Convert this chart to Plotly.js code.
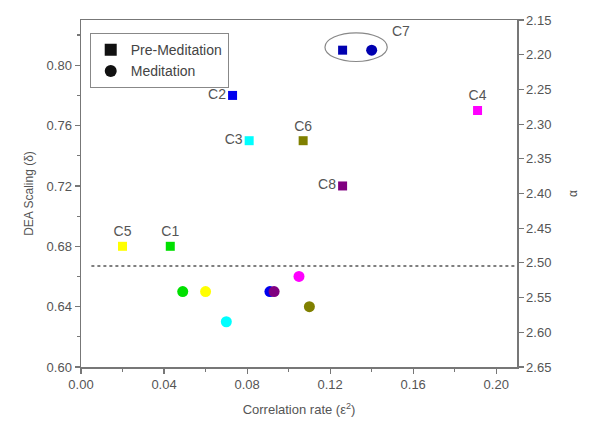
<!DOCTYPE html>
<html>
<head>
<meta charset="utf-8">
<script src="https://cdn.plot.ly/plotly-3.0.1.min.js"></script>
<style>html,body{margin:0;padding:0;background:#fff;}#chart{width:593px;height:432px;}</style>
</head>
<body>
<div id="chart"></div>
<script>
// Data
const categories = ['C1','C2','C3','C4','C5','C6','C7','C8'];
const colors = ['#00e000','#0000ee','#00ffff','#ff00ff','#ffff00','#808000','#0000b0','#800080'];
const preX = [0.043, 0.073, 0.081, 0.191, 0.020, 0.107, 0.126, 0.126];
const preY = [0.68, 0.78, 0.75, 0.77, 0.68, 0.75, 0.81, 0.72];
const medX = [0.049, 0.091, 0.070, 0.105, 0.060, 0.110, 0.140, 0.093];
const medY = [0.65, 0.65, 0.63, 0.66, 0.65, 0.64, 0.81, 0.65];
const labelPos = ['top center','middle left','middle left','top center','top center','top center','none','middle left'];
const threshold = 0.667;

const labelText = categories.map((c,i)=> labelPos[i]==='none' ? '' : c);
const textPos = labelPos.map(p => p==='none' ? 'top center' : p);

const font = {family: 'Liberation Sans, Arial, sans-serif', color: '#555', size: 13};

const traces = [
  {x: preX, y: preY, type: 'scatter', mode: 'markers+text', text: labelText, textposition: textPos,
   textfont: {family: font.family, size: 14, color: '#555'},
   marker: {symbol: 'square', size: 9, color: colors}, showlegend: false, cliponaxis: false},
  {x: medX, y: medY, type: 'scatter', mode: 'markers',
   marker: {symbol: 'circle', size: 11, color: colors}, showlegend: false},
  {x: [null], y: [null], type: 'scatter', mode: 'markers', name: 'Pre-Meditation',
   marker: {symbol: 'square', size: 11, color: '#111'}},
  {x: [null], y: [null], type: 'scatter', mode: 'markers', name: 'Meditation',
   marker: {symbol: 'circle', size: 12, color: '#111'}},
  {x: [null], y: [null], yaxis: 'y2', type: 'scatter', showlegend: false, hoverinfo: 'skip'}
];

const axisCommon = {
  showline: true, linecolor: '#777', linewidth: 1.5, showgrid: false, zeroline: false,
  ticks: 'outside', ticklen: 5, tickwidth: 1.2, tickcolor: '#777',
  tickfont: {family: font.family, size: 13, color: '#555'}
};

const layout = {
  width: 593, height: 432,
  margin: {l: 81, r: 76, t: 20, b: 65},
  paper_bgcolor: '#fff', plot_bgcolor: '#fff',
  font: font,
  xaxis: Object.assign({}, axisCommon, {
    range: [0, 0.21], tickvals: [0, 0.04, 0.08, 0.12, 0.16, 0.20], tickformat: '.2f',
    mirror: true,
    minor: {tickvals: [0.02, 0.06, 0.10, 0.14, 0.18], ticks: 'outside', ticklen: 3, tickcolor: '#777'},
    title: {text: 'Correlation rate (ε<sup>2</sup>)', font: {family: font.family, size: 13, color: '#555'}, standoff: 14}
  }),
  yaxis: Object.assign({}, axisCommon, {
    range: [0.60, 0.83], tickvals: [0.60, 0.64, 0.68, 0.72, 0.76, 0.80], tickformat: '.2f',
    minor: {tickvals: [0.62, 0.66, 0.70, 0.74, 0.78, 0.82], ticks: 'outside', ticklen: 3, tickcolor: '#777'},
    title: {text: 'DEA Scaling (δ)', font: {family: font.family, size: 12, color: '#555'}, standoff: 10}
  }),
  yaxis2: Object.assign({}, axisCommon, {
    overlaying: 'y', side: 'right', range: [2.65, 2.15], dtick: 0.05, tick0: 2.15, tickformat: '.2f',
    title: {text: 'α', font: {family: font.family, size: 12, color: '#555'}, standoff: 18}
  }),
  legend: {
    x: 0.02, y: 0.962, xanchor: 'left', yanchor: 'top',
    bordercolor: '#888', borderwidth: 1, bgcolor: 'rgba(255,255,255,0)',
    font: {family: font.family, size: 14, color: '#444'},
    itemsizing: 'constant', tracegroupgap: 0
  },
  shapes: [
    {type: 'line', xref: 'x', yref: 'y', x0: 0.005, x1: 0.21, y0: threshold, y1: threshold,
     line: {color: '#555', width: 1.5, dash: 'dot'}},
    {type: 'circle', xref: 'x', yref: 'y', x0: preX[6] - 0.0085, x1: medX[6] + 0.0075,
     y0: preY[6] - 0.0075, y1: preY[6] + 0.0115,
     line: {color: '#888', width: 1.2}}
  ],
  annotations: [
    {xref: 'x', yref: 'y', x: medX[6] + 0.009, y: preY[6] + 0.006, text: categories[6],
     showarrow: false, xanchor: 'left', yanchor: 'bottom', font: {family: font.family, size: 14, color: '#555'}}
  ]
};

Plotly.newPlot('chart', traces, layout, {displayModeBar: false, staticPlot: true});
</script>
</body>
</html>
